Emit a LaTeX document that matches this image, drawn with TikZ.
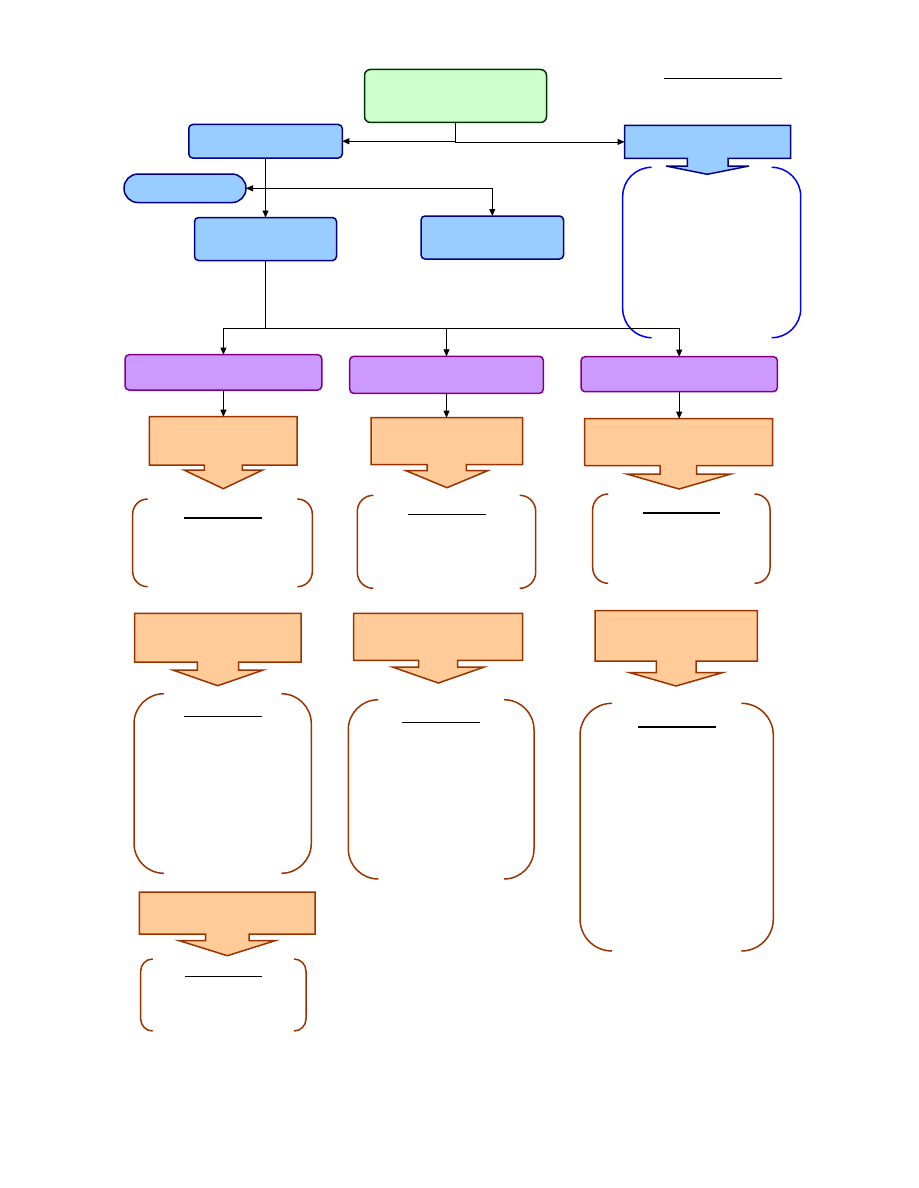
\documentclass[tikz,border=0pt]{standalone}
\usetikzlibrary{arrows.meta}
\definecolor{gfill}{HTML}{CCFFCC}
\definecolor{gline}{HTML}{003300}
\definecolor{bfill}{HTML}{99CCFF}
\definecolor{bline}{HTML}{000080}
\definecolor{pfill}{HTML}{CC99FF}
\definecolor{pline}{HTML}{800080}
\definecolor{ofill}{HTML}{FFCC99}
\definecolor{oline}{HTML}{993300}
\definecolor{brblue}{HTML}{0000FF}
\tikzset{
  boxbase/.style={draw, line width=1.5pt, inner sep=0pt, outer sep=0pt, rounded corners=4pt},
  greenbox/.style={boxbase, fill=gfill, draw=gline, rounded corners=6pt},
  bluebox/.style={boxbase, fill=bfill, draw=bline},
  purplebox/.style={boxbase, fill=pfill, draw=pline},
  ghost/.style={inner sep=0pt, outer sep=0pt},
  conn/.style={line width=0.8pt, -{Triangle[length=7pt,width=6pt]}},
  plainline/.style={line width=0.8pt},
  ocallout/.style={fill=ofill, draw=oline, line width=1.5pt, line join=miter},
  bcallout/.style={fill=bfill, draw=bline, line width=1.5pt, line join=miter},
  obracket/.style={draw=oline, line width=1.5pt},
  bbracket/.style={draw=brblue, line width=1.5pt},
  thinrule/.style={line width=1pt},
  thickrule/.style={line width=2pt}
}
% #1 style, #2 x1, #3 y1, #4 x2, #5 y2, #6 r
\newcommand{\bracketpair}[6]{%
  \draw[#1, rounded corners=#6pt] ({#2+#6},#3) -- (#2,#3) -- (#2,#5) -- ({#2+#6},#5);
  \draw[#1, rounded corners=#6pt] ({#4-#6},#3) -- (#4,#3) -- (#4,#5) -- ({#4-#6},#5);
}
\begin{document}
\begin{tikzpicture}[x=1pt,y=-1pt]
\useasboundingbox (0,0) rectangle (918,1188);

% ---------- top level ----------
\node[greenbox, minimum width=182pt, minimum height=53pt] (g) at (455.5,96) {};
\node[bluebox, minimum width=153.5pt, minimum height=33.5pt] (b1) at (265.5,141.25) {};
\node[bluebox, minimum width=122pt, minimum height=28.5pt, rounded corners=14pt] (st) at (185,188.3) {};
\node[bluebox, minimum width=142pt, minimum height=43pt] (b2) at (265.5,239) {};
\node[bluebox, minimum width=142.5pt, minimum height=43pt] (b3) at (492.3,237.5) {};

% right blue callout
\path[bcallout] (624.5,125.5) -- (790.5,125.5) -- (790.5,158.3) -- (728,158.3) -- (728,166)
  -- (749,166) -- (707.3,174.3) -- (666,166) -- (687.3,166) -- (687.3,158.3) -- (624.5,158.3) -- cycle;
\node[ghost, minimum width=166pt, minimum height=32.8pt] (bc) at (707.5,141.9) {};
\bracketpair{bbracket}{622.7}{167.3}{800.7}{337.7}{29}
\draw[thinrule] (664,79) -- (781.7,79);

% connectors top
\draw[conn] (g.south) |- (b1.east);
\draw[conn] (g.south) |- (bc.west);
\draw[conn] (b1.south) -- (b2.north);
\coordinate (k) at (265.5,188.3);
\draw[conn] (k) -- (st.east);
\draw[conn] (k) -| (b3.north);

% ---------- purple level ----------
\node[purplebox, minimum width=196.7pt, minimum height=35.3pt] (p1) at (223.4,372.35) {};
\node[purplebox, minimum width=193.6pt, minimum height=37pt] (p2) at (446.5,374.8) {};
\node[purplebox, minimum width=196.3pt, minimum height=35pt] (p3) at (679.2,374.2) {};

\coordinate (j) at (265.5,328);
\draw[plainline] (b2.south) -- (j);
\draw[conn] (j) -| (p1.north);
\draw[conn] (j) -| (p3.north);
\draw[conn] (j -| p2.north) -- (p2.north);

% ---------- orange callouts ----------
% O1
\path[ocallout] (149.3,416.7) -- (297,416.7) -- (297,465) -- (242.3,465) -- (242.3,470) -- (262.7,470)
  -- (223.3,488.7) -- (184,470) -- (204.3,470) -- (204.3,465) -- (149.3,465) -- cycle;
\node[ghost, minimum width=147.7pt, minimum height=48.3pt] (o1) at (223.15,440.85) {};
% O2
\path[ocallout] (371,417.7) -- (522.7,417.7) -- (522.7,464.7) -- (466.3,464.7) -- (466.3,470.7) -- (487.7,470.7)
  -- (447,487.7) -- (406,470.7) -- (427,470.7) -- (427,464.7) -- (371,464.7) -- cycle;
\node[ghost, minimum width=151.7pt, minimum height=47pt] (o2) at (446.85,441.2) {};
% O3
\path[ocallout] (584.7,418.7) -- (772.7,418.7) -- (772.7,465.7) -- (696.7,465.7) -- (696.7,474) -- (731,474)
  -- (679,489) -- (626.7,474) -- (660,474) -- (660,465.7) -- (584.7,465.7) -- cycle;
\node[ghost, minimum width=188pt, minimum height=47pt] (o3) at (678.7,442.2) {};
% O4
\path[ocallout] (134.7,613.3) -- (301,613.3) -- (301,662) -- (238.7,662) -- (238.7,670) -- (263.3,670)
  -- (217.7,685.7) -- (172.7,670) -- (197.3,670) -- (197.3,662) -- (134.7,662) -- cycle;
\node[ghost, minimum width=166.3pt, minimum height=48.7pt] (o4) at (217.85,637.65) {};
% O5
\path[ocallout] (353.7,613.3) -- (522.7,613.3) -- (522.7,660.3) -- (457.7,660.3) -- (457.7,667) -- (484.3,667)
  -- (438.3,683) -- (392.3,667) -- (418.7,667) -- (418.7,660.3) -- (353.7,660.3) -- cycle;
\node[ghost, minimum width=169pt, minimum height=47pt] (o5) at (438.2,636.8) {};
% O6
\path[ocallout] (595,610.7) -- (757.3,610.7) -- (757.3,661) -- (696,661) -- (696,672.7) -- (722.3,672.7)
  -- (676,686) -- (630,672.7) -- (656.3,672.7) -- (656.3,661) -- (595,661) -- cycle;
\node[ghost, minimum width=162.3pt, minimum height=50.3pt] (o6) at (676.15,635.85) {};
% O7
\path[ocallout] (139.3,892) -- (315,892) -- (315,934) -- (249,934) -- (249,940.7) -- (275,940.7)
  -- (227.3,955.7) -- (179.3,940.7) -- (205.7,940.7) -- (205.7,934) -- (139.3,934) -- cycle;
\node[ghost, minimum width=175.7pt, minimum height=42pt] (o7) at (227.15,913) {};

% purple -> orange
\draw[conn] (p1.south) -- (p1.south |- o1.north);
\draw[conn] (p2.south) -- (p2.south |- o2.north);
\draw[conn] (p3.south) -- (p3.south |- o3.north);

% ---------- brackets ----------
\bracketpair{obracket}{132.7}{499}{312.3}{586.7}{15}
\bracketpair{obracket}{357.3}{495.3}{535.7}{588.3}{16}
\bracketpair{obracket}{592.7}{494}{770}{583.3}{15.5}
\bracketpair{obracket}{134}{693.7}{311.3}{873.3}{30}
\bracketpair{obracket}{348.3}{699.7}{534}{879}{30}
\bracketpair{obracket}{580}{703.3}{773.3}{951}{32}
\bracketpair{obracket}{140.7}{959}{306}{1031}{12}

% ---------- title rules ----------
\draw[thickrule] (184,517.7) -- (262,517.7);
\draw[thinrule] (407.7,514) -- (486,514);
\draw[thickrule] (643,512.7) -- (720,512.7);
\draw[thinrule] (184,716.3) -- (262,716.3);
\draw[thinrule] (402,722.3) -- (480,722.3);
\draw[thickrule] (638,726.7) -- (716,726.7);
\draw[thinrule] (185,976.3) -- (262.3,976.3);
\end{tikzpicture}
\end{document}
